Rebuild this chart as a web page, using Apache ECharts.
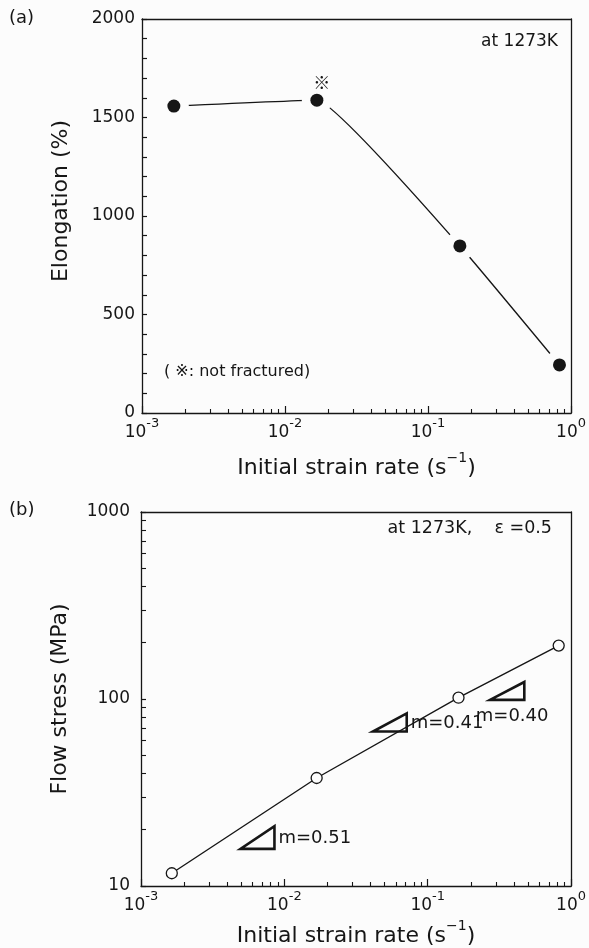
<!DOCTYPE html>
<html>
<head>
<meta charset="utf-8">
<script src="https://cdn.jsdelivr.net/npm/echarts@6/dist/echarts.min.js"></script>
<style>
  html, body { margin: 0; padding: 0; background: #fcfcfc; }
  #chart { width: 589px; height: 948px; }
</style>
</head>
<body>
<div id="chart"></div>
<script>
// (a) elongation vs strain rate
const strainRates = [0.00167, 0.0167, 0.167, 0.83]
const elongation = [1558, 1588, 848, 244]
const notFractured = [false, true, false, false]
// (b) flow stress vs strain rate
const flowRates = [0.00164, 0.0168, 0.164, 0.82]
const flowStress = [11.7, 37.8, 101.6, 193]
// slope triangles: m, x from/to, base stress
const slopeM = [0.51, 0.41, 0.40]
const slopeFrom = [0.00494, 0.0415, 0.272]
const slopeTo = [0.00853, 0.0714, 0.472]
const slopeBase = [15.8, 67, 98.9]
const slopeLabelSide = ['right', 'right', 'below']
// tick values
const minorRateTicks = [0.002, 0.003, 0.004, 0.005, 0.006, 0.007, 0.008, 0.009,
  0.02, 0.03, 0.04, 0.05, 0.06, 0.07, 0.08, 0.09,
  0.2, 0.3, 0.4, 0.5, 0.6, 0.7, 0.8, 0.9]
const minorStressTicks = [20, 30, 40, 50, 60, 70, 80, 90, 200, 300, 400, 500, 600, 700, 800, 900]

const INK = '#161616'
const BG = '#fcfcfc'
const FONT = 'DejaVu Sans'

const chart = echarts.init(document.getElementById('chart'))

const powLabel = {
  formatter: (v) => '{b|10}{s|' + Math.round(Math.log10(v)) + '}',
  margin: 4,
  rich: {
    b: { fontSize: 17, fontFamily: FONT, color: INK, verticalAlign: 'bottom', lineHeight: 24 },
    s: { fontSize: 13, fontFamily: FONT, color: INK, verticalAlign: 'top', lineHeight: 24 },
  },
}
const nameRich = {
  fontSize: 22, fontFamily: FONT, color: INK,
  rich: {
    t: { fontSize: 22, fontFamily: FONT, color: INK, verticalAlign: 'bottom', lineHeight: 28 },
    s: { fontSize: 14, fontFamily: FONT, color: INK, verticalAlign: 'top', lineHeight: 28 },
  },
}
const line = { show: true, onZero: false, lineStyle: { color: INK, width: 1.3 } }
const noLine = { show: false, onZero: false }

function rateAxis(grid, gap) {
  return [
    {
      type: 'log', logBase: 10, gridIndex: grid, min: 0.001, max: 1, position: 'bottom', z: 10,
      axisLine: line,
      axisTick: { inside: true, length: 7, lineStyle: { color: INK, width: 1.2 } },
      axisLabel: powLabel,
      splitLine: { show: false },
      name: '{t|Initial strain rate (s}{s|−1}{t|)}', nameLocation: 'middle', nameGap: gap,
      nameTextStyle: nameRich,
    },
    {
      type: 'value', gridIndex: grid, min: -3, max: 0, position: 'bottom',
      axisLine: noLine,
      axisTick: { inside: true, length: 4, lineStyle: { color: INK, width: 1.1 },
        customValues: minorRateTicks.map(Math.log10) },
      axisLabel: { show: false }, splitLine: { show: false },
    },
    {
      type: 'value', gridIndex: grid, min: 0, max: 1, position: 'top', z: 10,
      axisLine: line, axisTick: { show: false }, axisLabel: { show: false }, splitLine: { show: false },
    },
  ]
}
function frameY(grid) {
  return {
    type: 'value', gridIndex: grid, min: 0, max: 1, position: 'right', z: 10,
    axisLine: line, axisTick: { show: false }, axisLabel: { show: false }, splitLine: { show: false },
  }
}

chart.setOption({
  backgroundColor: BG,
  animation: false,
  grid: [
    { left: 142, top: 19, width: 433, height: 394 },
    { left: 141, top: 512, width: 432, height: 380 },
  ],
  xAxis: [...rateAxis(0, 38), ...rateAxis(1, 33)],
  yAxis: [
    {
      type: 'value', gridIndex: 0, min: 0, max: 2000, interval: 100, position: 'left', z: 10,
      axisLine: line,
      axisTick: { inside: true, length: 5, lineStyle: { color: INK, width: 1.2 } },
      axisLabel: { formatter: (v) => (v % 500 === 0 ? String(v) : ''), fontSize: 17,
        fontFamily: FONT, color: INK, margin: 7 },
      splitLine: { show: false },
      name: 'Elongation (%)', nameLocation: 'middle', nameGap: 70,
      nameTextStyle: { fontSize: 22, fontFamily: FONT, color: INK, padding: [0, 0, 0, 30] },
    },
    frameY(0),
    {
      type: 'log', logBase: 10, gridIndex: 1, min: 10, max: 1000, position: 'left', z: 10,
      axisLine: line,
      axisTick: { inside: true, length: 5, lineStyle: { color: INK, width: 1.2 } },
      axisLabel: { formatter: (v) => String(Math.round(v)), fontSize: 17, fontFamily: FONT,
        color: INK, margin: 11 },
      splitLine: { show: false },
      name: 'Flow stress (MPa)', nameLocation: 'middle', nameGap: 70,
      nameTextStyle: { fontSize: 22, fontFamily: FONT, color: INK },
    },
    {
      type: 'value', gridIndex: 1, min: 1, max: 3, position: 'left',
      axisLine: noLine,
      axisTick: { inside: true, length: 5, lineStyle: { color: INK, width: 1.1 },
        customValues: minorStressTicks.map(Math.log10) },
      axisLabel: { show: false }, splitLine: { show: false },
    },
    frameY(1),
  ],
  series: [
    {
      type: 'line', xAxisIndex: 0, yAxisIndex: 0, smooth: 0.1, symbol: 'none', z: 2,
      lineStyle: { color: INK, width: 1.4 },
      data: strainRates.map((x, i) => [x, elongation[i]]),
    },
    {
      type: 'scatter', xAxisIndex: 0, yAxisIndex: 0, symbolSize: 30, z: 3, silent: true,
      itemStyle: { color: BG, opacity: 1 },
      data: strainRates.map((x, i) => [x, elongation[i]]),
    },
    {
      type: 'scatter', xAxisIndex: 0, yAxisIndex: 0, symbolSize: 13, z: 4,
      itemStyle: { color: INK, opacity: 1 },
      data: strainRates.map((x, i) => ({
        value: [x, elongation[i]],
        label: { show: notFractured[i], formatter: '※', position: 'top', distance: 3,
          offset: [5, 0], fontSize: 17, fontFamily: 'Noto Sans CJK JP', color: INK },
      })),
    },
    {
      type: 'line', xAxisIndex: 3, yAxisIndex: 2, symbol: 'circle', symbolSize: 11, z: 3,
      lineStyle: { color: INK, width: 1.4 },
      itemStyle: { color: BG, borderColor: INK, borderWidth: 1.3 },
      data: flowRates.map((x, i) => [x, flowStress[i]]),
    },
    {
      type: 'custom', xAxisIndex: 3, yAxisIndex: 2, z: 4, silent: true,
      data: slopeM.map((m, i) => [slopeFrom[i], slopeTo[i], slopeBase[i], m]),
      renderItem: (params, api) => {
        const i = params.dataIndex
        const from = api.value(0), to = api.value(1), base = api.value(2), m = api.value(3)
        const p0 = api.coord([from, base])
        const p1 = api.coord([to, base])
        const p2 = api.coord([to, base * Math.pow(to / from, m)])
        const below = slopeLabelSide[i] === 'below'
        return {
          type: 'group',
          children: [
            {
              type: 'polygon',
              shape: { points: [p0, p1, p2] },
              style: { fill: null, stroke: INK, lineWidth: 2.6, lineJoin: 'miter' },
            },
            {
              type: 'text',
              style: {
                text: 'm=' + m.toFixed(2),
                x: below ? (p0[0] + p1[0]) / 2 + 5 : p1[0] + 4,
                y: below ? p1[1] + 16 : (p1[1] + p2[1]) / 2 + 1,
                align: below ? 'center' : 'left',
                verticalAlign: 'middle',
                fontSize: 18, fontFamily: FONT, fill: INK,
              },
            },
          ],
        }
      },
    },
  ],
  graphic: [
    { type: 'text', left: 9, top: 9, style: { text: '(a)', fontSize: 18, fontFamily: FONT, fill: INK } },
    { type: 'text', left: 9, top: 501, style: { text: '(b)', fontSize: 18, fontFamily: FONT, fill: INK } },
    { type: 'text', right: 31, top: 33, style: { text: 'at 1273K', fontSize: 17, fontFamily: FONT, fill: INK } },
    { type: 'text', right: 37, top: 519, style: { text: 'at 1273K,    ε =0.5', fontSize: 17.5, fontFamily: FONT, fill: INK } },
    { type: 'text', left: 164, top: 364, style: { text: '( ※: not fractured)', fontSize: 16, fontFamily: FONT, fill: INK } },
  ],
})
</script>
</body>
</html>
